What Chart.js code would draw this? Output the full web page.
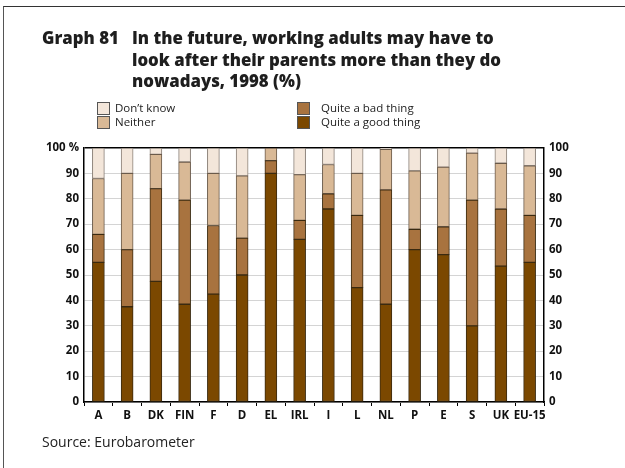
<!DOCTYPE html>
<html>
<head>
<meta charset="utf-8">
<script src="https://cdn.jsdelivr.net/npm/chart.js@4/dist/chart.umd.min.js"></script>
<style>
  html, body { margin:0; padding:0; background:#fff; }
  #wrap { position:relative; width:625px; height:468px; overflow:hidden; font-family:"Open Sans","Noto Sans",sans-serif; color:#222; }
  #frame { position:absolute; left:3px; top:6px; width:640px; height:480px; border-left:1px solid #555; border-top:1.5px solid #333; }
  #c { position:absolute; left:0; top:0; }
  .t { position:absolute; font-weight:800; font-size:16.8px; line-height:21.5px; color:#1e1e1e; white-space:nowrap; }
  .leg { position:absolute; font-size:11.5px; color:#222; white-space:nowrap; line-height:14px; }
  .sw { position:absolute; width:11px; height:11px; border:1px solid #555; }
  #src { position:absolute; left:42px; top:432px; font-size:14px; color:#222; }
</style>
</head>
<body>
<div id="wrap">
  <div id="frame"></div>
  <canvas id="c" width="625" height="468"></canvas>
  <div class="t" style="left:42px; top:27px;">Graph 81</div>
  <div class="t" style="left:132px; top:27px;">In the future, working adults may have to<br>look after their parents more than they do<br>nowadays, 1998 (%)</div>
  <div id="legend"></div>
  <div id="src">Source: Eurobarometer</div>
</div>
<script>
const categories = ["A","B","DK","FIN","F","D","EL","IRL","I","L","NL","P","E","S","UK","EU-15"];
const quiteGood  = [55, 37.5, 47.5, 38.5, 42.5, 50, 90, 64, 76, 45, 38.5, 60, 58, 30, 53.5, 55];
const quiteBad   = [11, 22.5, 36.5, 41, 27, 14.5, 5, 7.5, 6, 28.5, 45, 8, 11, 49.5, 22.5, 18.5];
const neither    = [22, 30, 13.5, 15, 20.5, 24.5, 5, 18, 11.5, 16.5, 16, 23, 23.5, 18.5, 18, 19.5];
const dontKnow   = [12, 10, 2.5, 5.5, 10, 11, 0, 10.5, 6.5, 10, 0.5, 9, 7.5, 2, 6, 7];
const yTicks     = [0,10,20,30,40,50,60,70,80,90,100];

const COL = { good:"#7b4800", bad:"#a8733f", neither:"#d9b996", dk:"#f3e6da" };

// HTML legend
const legendItems = [
  {label:"Don\u2019t know", color:COL.dk, x:97, y:102},
  {label:"Neither", color:COL.neither, x:97, y:116},
  {label:"Quite a bad thing", color:COL.bad, x:297, y:102},
  {label:"Quite a good thing", color:COL.good, x:297, y:116}
];
const legEl = document.getElementById('legend');
legendItems.forEach(it => {
  const s = document.createElement('div');
  s.className = 'sw'; s.style.left = it.x+'px'; s.style.top = it.y+'px'; s.style.background = it.color;
  legEl.appendChild(s);
  const t = document.createElement('div');
  t.className = 'leg'; t.style.left = (it.x + (it.x > 200 ? 24 : 18))+'px'; t.style.top = (it.y-1)+'px';
  t.textContent = it.label;
  legEl.appendChild(t);
});

const tickFont = { family:"'Liberation Sans Narrow','Open Sans',sans-serif", size:11.5, weight:"bold" };

const ds = (label, data, color, border) => ({
  label, data, backgroundColor: color, borderColor: border, borderWidth: 1,
  barThickness: 12, borderSkipped: false
});

new Chart(document.getElementById('c'), {
  type: 'bar',
  data: {
    labels: categories,
    datasets: [
      ds("Quite a good thing", quiteGood, COL.good, "#3a2a10"),
      ds("Quite a bad thing", quiteBad, COL.bad, "#3a2a10"),
      ds("Neither", neither, COL.neither, "#6a5a4a"),
      ds("Don\u2019t know", dontKnow, COL.dk, "#8a8078")
    ]
  },
  options: {
    responsive: false,
    animation: false,
    devicePixelRatio: 1,
    layout: { padding: { top: 148, left: 0, right: 0, bottom: 0 } },
    plugins: { legend: { display:false }, tooltip: { enabled:false } },
    scales: {
      x: {
        stacked: true,
        offset: true,
        grid: { display:true, drawOnChartArea:false, drawTicks:true, tickLength:4, color:"#000", offset:true },
        border: { display:true, color:"#000", width:1.5 },
        ticks: { color:"#111", font: tickFont, padding: 3, maxRotation:0, autoSkip:false },
        afterFit: s => { s.height = 66; }
      },
      y: {
        stacked: true,
        position: 'left',
        min: 0, max: 100,
        afterBuildTicks: s => { s.ticks = yTicks.map(v => ({value:v})); },
        grid: { drawTicks:false, color: c => c.tick && c.tick.value === 100 ? "#000" : "#d4d4d4", lineWidth: c => c.tick && c.tick.value === 100 ? 1.5 : 1 },
        border: { display:true, color:"#000", width:1.5 },
        ticks: { color:"#111", font: tickFont, padding: 5, callback: v => v === 100 ? "100 %" : String(v) },
        afterFit: s => { s.width = 84; }
      },
      y2: {
        position: 'right',
        min: 0, max: 100,
        afterBuildTicks: s => { s.ticks = yTicks.map(v => ({value:v})); },
        grid: { drawOnChartArea:false, drawTicks:false },
        border: { display:true, color:"#000", width:1.5 },
        ticks: { color:"#111", font: tickFont, padding: 5, callback: v => String(v) },
        afterFit: s => { s.width = 81; }
      }
    }
  }
});
</script>
</body>
</html>
